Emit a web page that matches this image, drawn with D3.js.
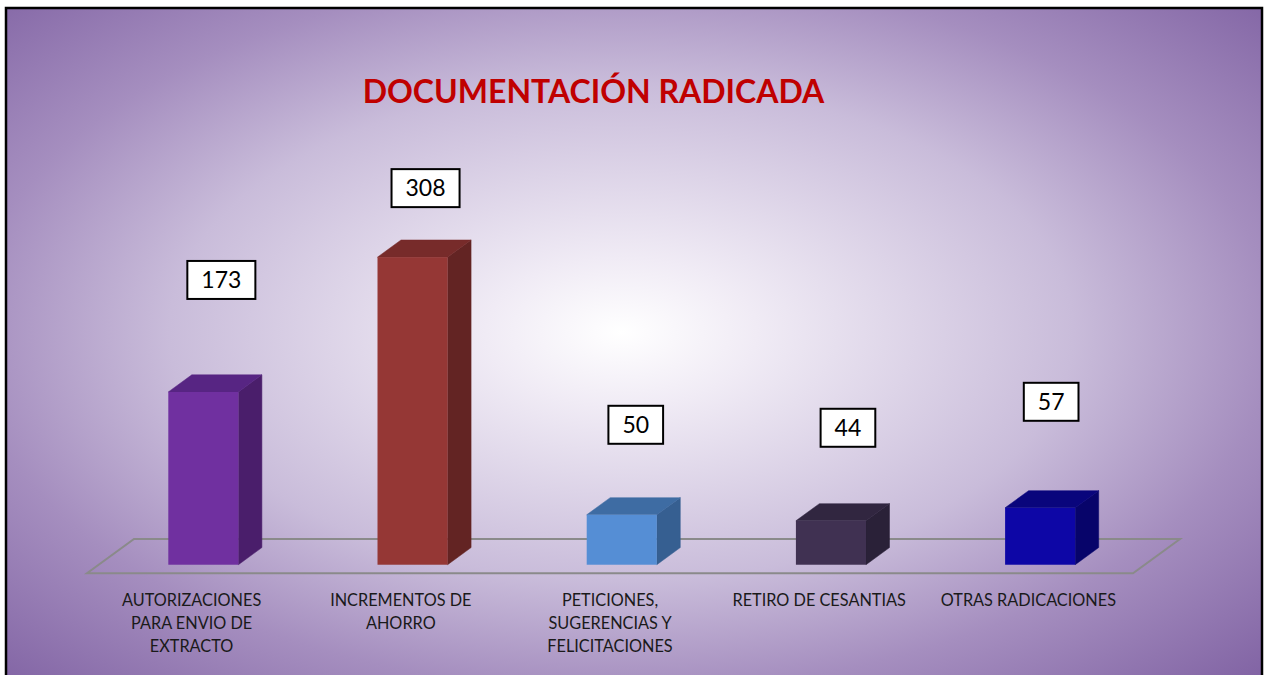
<!DOCTYPE html>
<html>
<head>
<meta charset="utf-8">
<script src="https://cdn.jsdelivr.net/npm/d3@7"></script>
<style>
  body { margin: 0; background: #fff; }
  svg { display: block; }
</style>
</head>
<body>
<svg id="chart" width="1265" height="675"></svg>
<script>
// data
var categories = ["AUTORIZACIONES PARA ENVIO DE EXTRACTO", "INCREMENTOS DE AHORRO",
    "PETICIONES, SUGERENCIAS Y FELICITACIONES", "RETIRO DE CESANTIAS", "OTRAS RADICACIONES"];
var values = [173, 308, 50, 44, 57];
var tickLabels = [
    ["AUTORIZACIONES", "PARA ENVIO DE", "EXTRACTO"],
    ["INCREMENTOS DE", "AHORRO"],
    ["PETICIONES,", "SUGERENCIAS Y", "FELICITACIONES"],
    ["RETIRO DE CESANTIAS"],
    ["OTRAS RADICACIONES"]
];
var title = "DOCUMENTACIÓN RADICADA";

// styling (front, top, side)
var colors = [
    ["#7030a0", "#572583", "#4a1e6b"],
    ["#953735", "#772b2a", "#632423"],
    ["#558ed5", "#3e6ca3", "#365f91"],
    ["#403152", "#312640", "#2a2138"],
    ["#0d06a6", "#09057c", "#07046a"]
];
// manual nudges of the data label boxes (px from bar top centre)
var labelNudge = [[18, -112], [13, -69], [14, -90], [17, -93], [11, -106]];

var svg = d3.select("#chart");
var defs = svg.append("defs");

var grad = defs.append("radialGradient")
    .attr("id", "bg")
    .attr("cx", 0.49).attr("cy", 0.47).attr("r", 0.72);
grad.append("stop").attr("offset", 0).attr("stop-color", "#ffffff");
grad.append("stop").attr("offset", 0.15).attr("stop-color", "#f0ebf5");
grad.append("stop").attr("offset", 0.5).attr("stop-color", "#c9bcda");
grad.append("stop").attr("offset", 0.72).attr("stop-color", "#a58ebf");
grad.append("stop").attr("offset", 1).attr("stop-color", "#8062a3");

svg.append("rect")
    .attr("x", 6).attr("y", 8)
    .attr("width", 1256).attr("height", 690)
    .attr("fill", "url(#bg)")
    .attr("stroke", "#000")
    .attr("stroke-width", 2.5);

// 3d projection settings
var floorY = 573.3;
var depthX = 47, depthY = -34.3;
var zFront = 0.25, zBack = 0.75;

var x = d3.scaleBand()
    .domain(categories)
    .range([87, 1133])
    .paddingInner(0.665)
    .paddingOuter(0.3325);

var h = d3.scaleLinear()
    .domain([0, 308])
    .range([0, 307.6]);

function P(px, py, z) {
    return [px + depthX * z, py + depthY * z];
}

// floor
var floor = [P(87, floorY, 0), P(1133, floorY, 0), P(1133, floorY, 1), P(87, floorY, 1)];
svg.append("polygon")
    .attr("points", floor.map(function(p) { return p.join(","); }).join(" "))
    .attr("fill", "none")
    .attr("stroke", "#8a8a8a")
    .attr("stroke-width", 2);

// bars
var bars = svg.append("g").selectAll("g")
    .data(values)
    .enter().append("g");

bars.each(function(v, i) {
    var g = d3.select(this);
    var x0 = x(categories[i]), x1 = x0 + x.bandwidth();
    var yt = floorY - h(v);
    var pts = function(arr) { return arr.map(function(p) { return p.join(","); }).join(" "); };
    // side
    g.append("polygon")
        .attr("points", pts([P(x1, floorY, zFront), P(x1, floorY, zBack), P(x1, yt, zBack), P(x1, yt, zFront)]))
        .attr("fill", colors[i][2]).attr("stroke", colors[i][2]).attr("stroke-width", 0.5);
    // top
    g.append("polygon")
        .attr("points", pts([P(x0, yt, zFront), P(x1, yt, zFront), P(x1, yt, zBack), P(x0, yt, zBack)]))
        .attr("fill", colors[i][1]).attr("stroke", colors[i][1]).attr("stroke-width", 0.5);
    // front
    var f0 = P(x0, yt, zFront), f1 = P(x1, floorY, zFront);
    g.append("rect")
        .attr("x", f0[0]).attr("y", f0[1])
        .attr("width", f1[0] - f0[0]).attr("height", f1[1] - f0[1])
        .attr("fill", colors[i][0]);
});

// data labels in boxes
var labels = svg.append("g").selectAll("g")
    .data(values)
    .enter().append("g")
    .attr("transform", function(v, i) {
        var c = P(x(categories[i]) + x.bandwidth() / 2, floorY - h(v), zFront);
        return "translate(" + (c[0] + labelNudge[i][0]) + "," + (c[1] + labelNudge[i][1]) + ")";
    });

labels.append("rect").attr("class", "box");
labels.append("text")
    .attr("text-anchor", "middle")
    .attr("dy", "0.36em")
    .attr("font-family", "Lato, 'Open Sans', sans-serif")
    .attr("font-size", "23px")
    .attr("fill", "#000")
    .text(function(v) { return v; });

labels.each(function() {
    var g = d3.select(this);
    var w = g.select("text").node().getComputedTextLength() + 28;
    g.select("rect")
        .attr("x", -w / 2).attr("y", -19)
        .attr("width", w).attr("height", 38)
        .attr("fill", "#fff")
        .attr("stroke", "#000")
        .attr("stroke-width", 2);
});

// category labels
var cat = svg.append("g").selectAll("text")
    .data(categories)
    .enter().append("text")
    .attr("text-anchor", "middle")
    .attr("font-family", "Lato, 'Open Sans', sans-serif")
    .attr("font-size", "16.3px")
    .attr("fill", "#1a1a1a")
    .attr("x", function(d) { return x(d) + x.bandwidth() / 2; })
    .attr("y", 605.5);

cat.each(function(d, i) {
    var t = d3.select(this);
    tickLabels[i].forEach(function(line, j) {
        t.append("tspan")
            .attr("x", x(d) + x.bandwidth() / 2)
            .attr("dy", j === 0 ? 0 : 23.3)
            .text(line);
    });
});

// title
svg.append("text")
    .attr("x", 593.5)
    .attr("y", 103)
    .attr("text-anchor", "middle")
    .attr("font-family", "Lato, 'Open Sans', sans-serif")
    .attr("font-weight", "bold")
    .attr("font-size", "32px")
    .attr("fill", "#c00000")
    .text(title);
</script>
</body>
</html>
